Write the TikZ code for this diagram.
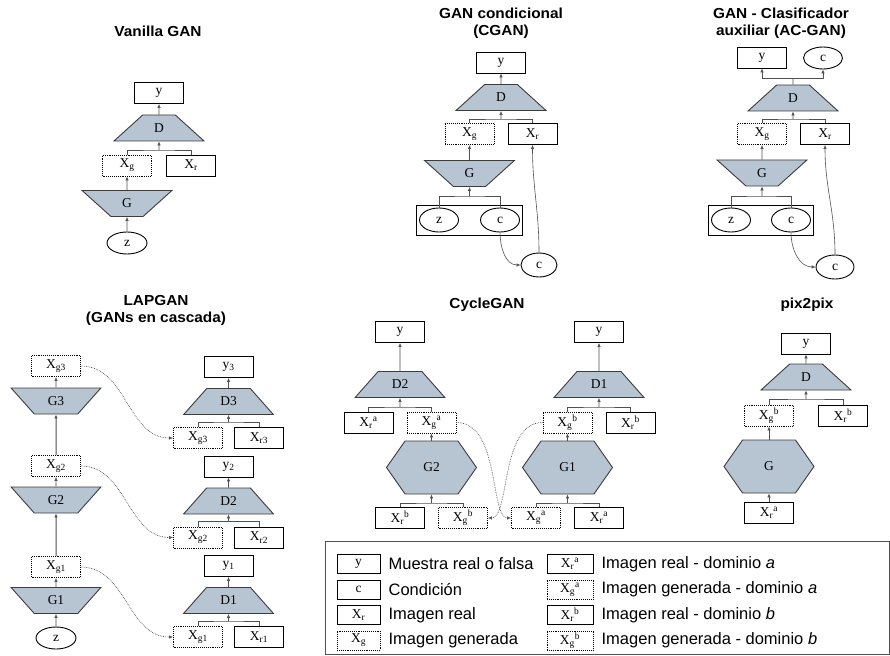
\documentclass[tikz,border=0pt]{standalone}
\usepackage{fontspec}
\setmainfont{Liberation Serif}
\newfontfamily\sanstitulo[FakeStretch=1.06]{Liberation Sans}
\newfontfamily\sansley{Liberation Sans}
\usetikzlibrary{shapes.geometric,shapes.symbols,arrows.meta,fit,positioning}

\definecolor{grisazul}{RGB}{183,197,211}
\definecolor{borde}{RGB}{60,60,60}
\definecolor{conector}{RGB}{80,80,80}

\newcommand{\Xsub}[1]{X\textsubscript{#1}}
\newcommand{\Xdom}[2]{X\textsubscript{#1}\textsuperscript{#2}}

\begin{document}
\begin{tikzpicture}[
      x=1pt, y=-1pt,
      font=\fontsize{13.5}{15}\selectfont,
      >={Latex[length=4pt,width=3.5pt]},
      muestra/.style={
        draw,
        line width=0.9pt,
        minimum width=49pt,
        minimum height=21pt,
        inner sep=0pt
      },
      generada/.style={muestra, densely dotted},
      leyenda/.style={muestra, minimum width=43pt, minimum height=19pt},
      leyendag/.style={leyenda, densely dotted},
      cond/.style={
        draw,
        ellipse,
        line width=0.9pt,
        minimum width=39pt,
        minimum height=24pt,
        inner sep=0pt
      },
      discr/.style={
        trapezium,
        trapezium stretches=true,
        trapezium left angle=46,
        trapezium right angle=46,
        minimum width=90pt,
        minimum height=26pt,
        inner sep=0pt,
        draw=borde,
        fill=grisazul,
        line width=0.9pt
      },
      gener/.style={discr, shape border rotate=180},
      hexa/.style={
        signal,
        signal to=west and east,
        signal pointer angle=110,
        minimum width=90pt,
        minimum height=53pt,
        inner sep=0pt,
        draw=borde,
        fill=grisazul,
        line width=0.9pt
      },
      titulo/.style={font=\sanstitulo\bfseries\fontsize{14.5}{17}\selectfont, align=center},
      texto/.style={font=\sansley\fontsize{16.5}{18}\selectfont, inner sep=0pt},
      flecha/.style={->, draw=conector, line width=0.6pt},
      linea/.style={draw=conector, line width=0.6pt},
      ciclo/.style={->, draw=conector, densely dotted, line width=0.7pt}
    ]
    \useasboundingbox (0,0) rectangle (890,655);

    % Vanilla GAN
    \node[titulo] (tvan) at (158,31) {Vanilla GAN};
    \node[muestra] (vy) at (159,93) {y};
    \node[discr] (vd) at (159,128) {D};
    \coordinate (vjn) at (159,150);
    \node[generada] (vxg) at (127,165.5) {\Xsub{g}};
    \node[muestra] (vxr) at (191,165.5) {\Xsub{r}};
    \node[gener] (vg) at (127,203.5) {G};
    \node[cond, minimum width=40pt, minimum height=22pt] (vz) at (127,243) {z};
    \draw[flecha] (vd.north) -- (vy.south);
    \draw[linea] (vxg.north) |- (vjn) -| (vxr.north);
    \draw[flecha] (vjn) -- (vd.south);
    \draw[flecha] (vg.north) -- (vxg.south);
    \draw[flecha] (vz.north) -- (vg.south);

    % GAN condicional
    \node[titulo] (tcg) at (501,23) {GAN condicional\\(CGAN)};
    \node[muestra] (cy) at (501,62.5) {y};
    \node[discr] (cd) at (501,97.5) {D};
    \coordinate (cjn) at (501,119);
    \node[generada] (cxg) at (469.5,134) {\Xsub{g}};
    \node[muestra] (cxr) at (532.5,134) {\Xsub{r}};
    \node[gener] (cg) at (469.5,173.5) {G};
    \coordinate (cjn2) at (469.5,196);
    \node[cond] (cz) at (439,220) {z};
    \node[cond] (cc) at (500,220) {c};
    \node[draw, line width=0.9pt, fit=(cz)(cc), inner sep=2.5pt] (ccaja) {};
    \node[cond, minimum width=36pt] (cc2) at (539,265) {c};
    \draw[flecha] (cd.north) -- (cy.south);
    \draw[linea] (cxg.north) |- (cjn) -| (cxr.north);
    \draw[flecha] (cjn) -- (cd.south);
    \draw[flecha] (cg.north) -- (cxg.south);
    \draw[linea] (cz.north) |- (cjn2) -| (cc.north);
    \draw[flecha] (cjn2) -- (cg.south);
    \draw[flecha] (cc.south) to[out=-90,in=180] (cc2.west);
    \draw[flecha] (cc2.north) to[out=90,in=-90] (cxr.south);

    % GAN - Clasificador auxiliar
    \node[titulo] (tac) at (781,23) {GAN - Clasificador\\auxiliar (AC-GAN)};
    \node[muestra] (ay) at (762,57.5) {y};
    \node[cond, minimum height=22pt] (ac) at (823,58) {c};
    \coordinate (ajn0) at (793,78);
    \node[discr] (ad) at (793,98) {D};
    \coordinate (ajn) at (793,119);
    \node[generada] (axg) at (762,134) {\Xsub{g}};
    \node[muestra] (axr) at (825,134) {\Xsub{r}};
    \node[gener] (ag) at (762,173) {G};
    \coordinate (ajn2) at (762,196);
    \node[cond] (az) at (731,220) {z};
    \node[cond] (acc) at (791,220) {c};
    \node[draw, line width=0.9pt, fit=(az)(acc), inner sep=2.5pt] (acaja) {};
    \node[cond, minimum width=38pt] (ac2) at (835,267) {c};
    \draw[linea] (ad.north) -- (ajn0);
    \draw[flecha] (ajn0) -| (ay.south);
    \draw[flecha] (ajn0) -| (ac.south);
    \draw[linea] (axg.north) |- (ajn) -| (axr.north);
    \draw[flecha] (ajn) -- (ad.south);
    \draw[flecha] (ag.north) -- (axg.south);
    \draw[linea] (az.north) |- (ajn2) -| (acc.north);
    \draw[flecha] (ajn2) -- (ag.south);
    \draw[flecha] (acc.south) to[out=-90,in=180] (ac2.west);
    \draw[flecha] (ac2.north) to[out=90,in=-90] (axr.south);

    % LAPGAN
    \node[titulo] (tlap) at (156,310) {LAPGAN\\(GANs en cascada)};
    \node[generada] (lxg3) at (56,366) {\Xsub{g3}};
    \node[gener] (lg3) at (56,401) {G3};
    \node[generada] (lxg2) at (56,466) {\Xsub{g2}};
    \node[gener] (lg2) at (56,500) {G2};
    \node[generada] (lxg1) at (56,567) {\Xsub{g1}};
    \node[gener] (lg1) at (56,600.5) {G1};
    \node[cond, minimum width=40pt, minimum height=22pt] (lz) at (56,638) {z};
    \node[muestra] (ly3) at (228.5,367) {y\textsubscript{3}};
    \node[discr] (ld3) at (228.5,401.5) {D3};
    \coordinate (ljn3) at (228.5,422);
    \node[generada] (ldg3) at (198,438) {\Xsub{g3}};
    \node[muestra] (ldr3) at (259,438) {\Xsub{r3}};
    \node[muestra] (ly2) at (228.5,466.5) {y\textsubscript{2}};
    \node[discr] (ld2) at (228.5,501) {D2};
    \coordinate (ljn2) at (228.5,521.5);
    \node[generada] (ldg2) at (198,537.5) {\Xsub{g2}};
    \node[muestra] (ldr2) at (259,537.5) {\Xsub{r2}};
    \node[muestra] (ly1) at (228.5,566) {y\textsubscript{1}};
    \node[discr] (ld1) at (228.5,600.5) {D1};
    \coordinate (ljn1) at (228.5,621);
    \node[generada] (ldg1) at (198,637) {\Xsub{g1}};
    \node[muestra] (ldr1) at (259,637) {\Xsub{r1}};
    \draw[flecha] (lg3.north) -- (lxg3.south);
    \draw[flecha, line width=1pt] (lxg2.north) -- (lg3.south);
    \draw[flecha] (lg2.north) -- (lxg2.south);
    \draw[flecha, line width=1pt] (lxg1.north) -- (lg2.south);
    \draw[flecha] (lg1.north) -- (lxg1.south);
    \draw[flecha] (lz.north) -- (lg1.south);
    \draw[flecha] (ld3.north) -- (ly3.south);
    \draw[linea] (ldg3.north) |- (ljn3) -| (ldr3.north);
    \draw[flecha] (ljn3) -- (ld3.south);
    \draw[flecha] (ld2.north) -- (ly2.south);
    \draw[linea] (ldg2.north) |- (ljn2) -| (ldr2.north);
    \draw[flecha] (ljn2) -- (ld2.south);
    \draw[flecha] (ld1.north) -- (ly1.south);
    \draw[linea] (ldg1.north) |- (ljn1) -| (ldr1.north);
    \draw[flecha] (ljn1) -- (ld1.south);
    \draw[ciclo] (lxg3.east) to[out=0,in=180] (ldg3.west);
    \draw[ciclo] (lxg2.east) to[out=0,in=180] (ldg2.west);
    \draw[ciclo] (lxg1.east) to[out=0,in=180] (ldg1.west);

    % CycleGAN
    \node[titulo] (tcyc) at (487,305) {CycleGAN};
    \node[muestra] (kya) at (400,332) {y};
    \node[discr] (kd2) at (400,384.5) {D2};
    \coordinate (kjn1) at (400,407);
    \node[muestra] (kxra) at (368.5,422.5) {\Xdom{r}{a}};
    \node[generada] (kxga) at (431.5,422.5) {\Xdom{g}{a}};
    \node[hexa] (kg2) at (431.5,467.5) {G2};
    \coordinate (kjn2) at (431.5,503);
    \node[muestra] (kxrb2) at (400,518) {\Xdom{r}{b}};
    \node[generada] (kxgb2) at (463,518) {\Xdom{g}{b}};
    \node[muestra] (kyb) at (599,332) {y};
    \node[discr] (kd1) at (599,384.5) {D1};
    \coordinate (kjn3) at (599,407);
    \node[generada] (kxgb) at (567.5,422.5) {\Xdom{g}{b}};
    \node[muestra] (kxrb) at (630.5,422.5) {\Xdom{r}{b}};
    \node[hexa] (kg1) at (567.5,467.5) {G1};
    \coordinate (kjn4) at (567.5,503);
    \node[generada] (kxga2) at (536,518) {\Xdom{g}{a}};
    \node[muestra] (kxra2) at (599,518) {\Xdom{r}{a}};
    \draw[flecha] (kd2.north) -- (kya.south);
    \draw[linea] (kxra.north) |- (kjn1) -| (kxga.north);
    \draw[flecha] (kjn1) -- (kd2.south);
    \draw[flecha] (kg2.north) -- (kxga.south);
    \draw[linea] (kxrb2.north) |- (kjn2) -| (kxgb2.north);
    \draw[flecha] (kjn2) -- (kg2.south);
    \draw[flecha] (kd1.north) -- (kyb.south);
    \draw[linea] (kxgb.north) |- (kjn3) -| (kxrb.north);
    \draw[flecha] (kjn3) -- (kd1.south);
    \draw[flecha] (kg1.north) -- (kxgb.south);
    \draw[linea] (kxga2.north) |- (kjn4) -| (kxra2.north);
    \draw[flecha] (kjn4) -- (kg1.south);
    \draw[ciclo] (kxga.east) .. controls (500,422.5) and (490,518) .. (kxga2.west);
    \draw[ciclo] (kxgb.west) .. controls (500,422.5) and (510,518) .. (kxgb2.east);

    % pix2pix
    \node[titulo] (tpix) at (807,305) {pix2pix};
    \node[muestra] (py) at (806,343.5) {y};
    \node[discr] (pd) at (806,377) {D};
    \coordinate (pjn) at (806,399);
    \node[generada] (pxgb) at (769,415.5) {\Xdom{g}{b}};
    \node[muestra] (pxrb) at (843,415.5) {\Xdom{r}{b}};
    \node[hexa] (pg) at (769,466.5) {G};
    \node[muestra] (pxra) at (769,513) {\Xdom{r}{a}};
    \draw[flecha] (pd.north) -- (py.south);
    \draw[linea] (pxgb.north) |- (pjn) -| (pxrb.north);
    \draw[flecha] (pjn) -- (pd.south);
    \draw[flecha] (pg.north) -- (pxgb.south);
    \draw[flecha] (pxra.north) -- (pg.south);

    % leyenda
    \draw[draw=conector, line width=1pt] (325,541) rectangle (889,654);
    \node[leyenda] (ey) at (358.5,564) {y};
    \node[leyenda] (ec) at (358.5,589.5) {c};
    \node[leyenda] (exr) at (358.5,615) {\Xsub{r}};
    \node[leyendag] (exg) at (358.5,640.5) {\Xsub{g}};
    \node[texto, right=8pt of ey] (tey) {Muestra real o falsa};
    \node[texto, right=8pt of ec] (tec) {Condición};
    \node[texto, right=8pt of exr] (texr) {Imagen real};
    \node[texto, right=8pt of exg] (texg) {Imagen generada};
    \node[leyenda, minimum width=46pt] (exra) at (570,564) {\Xdom{r}{a}};
    \node[leyendag, minimum width=46pt] (exga) at (570,589.5) {\Xdom{g}{a}};
    \node[leyenda, minimum width=46pt] (exrb) at (570,615) {\Xdom{r}{b}};
    \node[leyendag, minimum width=46pt] (exgb) at (570,640.5) {\Xdom{g}{b}};
    \node[texto, right=8pt of exra] (texra) {Imagen real - dominio \textit{a}};
    \node[texto, right=8pt of exga] (texga) {Imagen generada - dominio \textit{a}};
    \node[texto, right=8pt of exrb] (texrb) {Imagen real - dominio \textit{b}};
    \node[texto, right=8pt of exgb] (texgb) {Imagen generada - dominio \textit{b}};

  \end{tikzpicture}
\end{document}
